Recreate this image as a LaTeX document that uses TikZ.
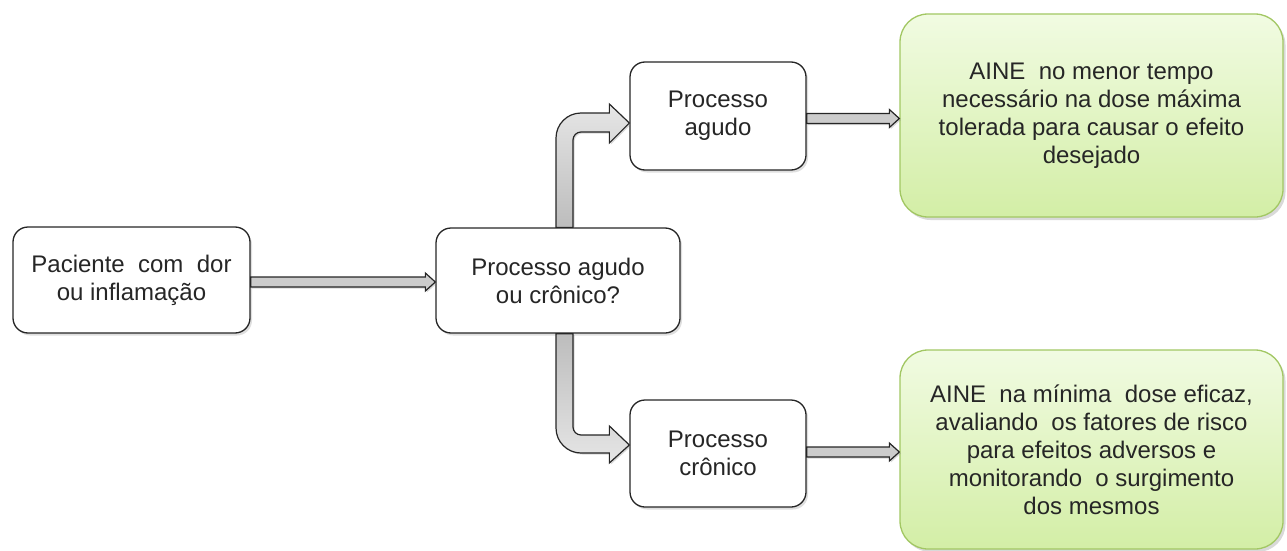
\documentclass[tikz,border=0pt]{standalone}
\usepackage{fontspec}
\setmainfont{Liberation Sans}
\usetikzlibrary{calc,shadows}
\definecolor{gtop}{HTML}{F1FBE2}
\definecolor{gbot}{HTML}{D3EEA6}
\definecolor{gborder}{HTML}{A2C763}
\tikzset{
  txt/.style={align=center, font=\fontsize{24}{28}\selectfont, text=black!85},
  wbox/.style={txt, draw=black!85, line width=1.3pt, rounded corners=15pt, fill=white, inner sep=0pt,
    drop shadow={opacity=0.25, shadow xshift=2pt, shadow yshift=-2.5pt}},
  gbox/.style={txt, draw=gborder, line width=1.3pt, rounded corners=28pt, top color=gtop, bottom color=gbot, inner sep=0pt,
    drop shadow={opacity=0.3, shadow xshift=2.5pt, shadow yshift=-3pt}},
  blockarrow/.style={draw=black!85, line width=1.2pt, fill=black!20,
    drop shadow={opacity=0.3, shadow xshift=1.5pt, shadow yshift=-1.5pt}},
}
\newcommand\hblock[3]{%
  \path[blockarrow] let \p1=(#1.east), \p2=(#2.west) in
    (\x1,{\y1+(#3)+5pt}) -- ({\x2-10pt},{\y1+(#3)+5pt}) -- ({\x2-10pt},{\y1+(#3)+9pt})
    -- (\x2,{\y1+(#3)}) -- ({\x2-10pt},{\y1+(#3)-9pt}) -- ({\x2-10pt},{\y1+(#3)-5pt})
    -- (\x1,{\y1+(#3)-5pt}) -- cycle;}
\begin{document}
\begin{tikzpicture}[x=1pt,y=-1pt]
\useasboundingbox (0,0) rectangle (1287,551);
\node[wbox, minimum width=237pt, minimum height=106pt] (pac) at (131.5,280) {Paciente\ \ com\ \ dor\\ou inflamação};
\node[wbox, minimum width=244pt, minimum height=105pt] (q) at (558,280.5) {Processo agudo\\ou crônico?};
\node[wbox, minimum width=176pt, minimum height=108pt] (ag) at (718,116) {Processo\\agudo};
\node[wbox, minimum width=176pt, minimum height=107pt] (cr) at (718,453.5) {Processo\\crônico};
\node[gbox, minimum width=383pt, minimum height=203pt] (tag) at (1091.5,115.5) {AINE\ \ no menor tempo\\necessário na dose máxima\\tolerada para causar o efeito\\desejado};
\node[gbox, minimum width=383pt, minimum height=199pt] (tcr) at (1091.5,449.5) {AINE\ \ na mínima\ \ dose eficaz,\\avaliando\ \ os fatores de risco\\para efeitos adversos e\\monitorando\ \ o surgimento\\dos mesmos};
% horizontal connectors
\hblock{pac}{q}{-2pt}
\hblock{ag}{tag}{-2.5pt}
\hblock{cr}{tcr}{1.5pt}
% bent connector up
\path[blockarrow, top color=black!10, bottom color=black!26] let \p1=(q.north), \p2=(ag.west) in
  ({\x1-2pt},\y1) -- ({\x1-2pt},{\y2+3pt-25pt}) arc[start angle=180, end angle=90, radius=25pt]
  -- ({\x2-20pt},{\y2+3pt}) -- ({\x2-20pt},{\y2+12pt}) -- (\x2,{\y2-7pt})
  -- ({\x2-20pt},{\y2-27pt}) -- ({\x2-20pt},{\y2-16pt}) -- ({\x1+23pt},{\y2-16pt})
  arc[start angle=90, end angle=180, radius=8pt] -- ({\x1+15pt},\y1) -- cycle;
% bent connector down
\path[blockarrow, top color=black!26, bottom color=black!10] let \p1=(q.south), \p2=(cr.west) in
  ({\x1-2pt},\y1) -- ({\x1-2pt},{\y2+0.5pt+25pt}) arc[start angle=180, end angle=270, radius=25pt]
  -- ({\x2-20pt},{\y2+0.5pt}) -- ({\x2-20pt},{\y2-9.5pt}) -- (\x2,{\y2+8.5pt})
  -- ({\x2-20pt},{\y2+27.5pt}) -- ({\x2-20pt},{\y2+18.5pt}) -- ({\x1+23pt},{\y2+18.5pt})
  arc[start angle=270, end angle=180, radius=8pt] -- ({\x1+15pt},\y1) -- cycle;
\end{tikzpicture}
\end{document}
